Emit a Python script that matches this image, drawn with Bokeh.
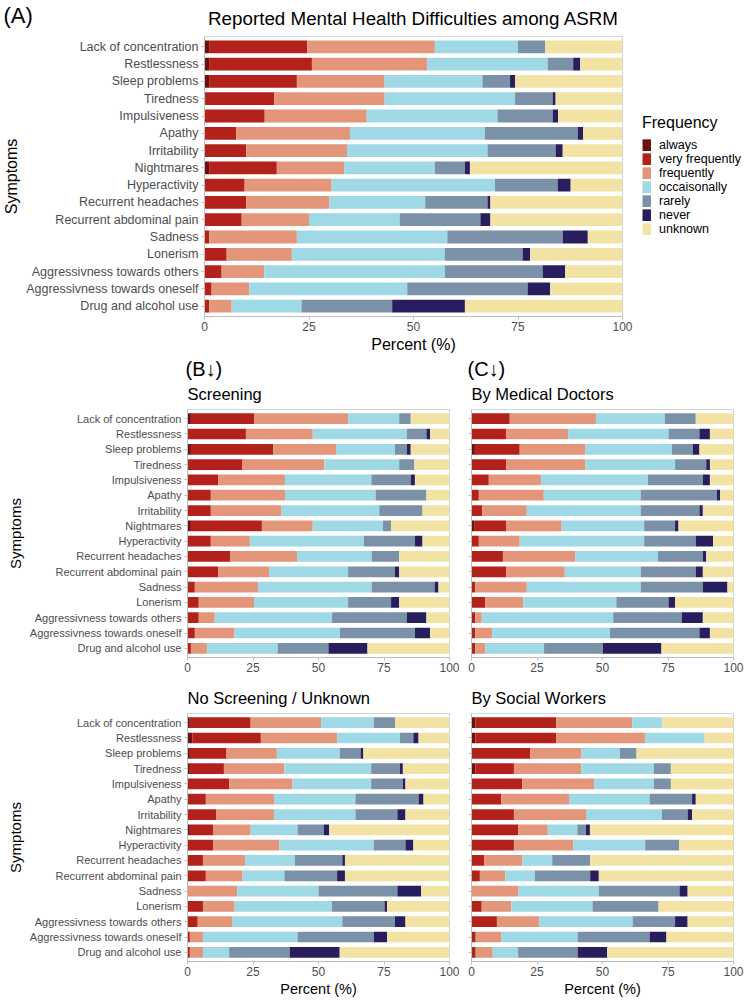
from bokeh.plotting import figure
from bokeh.models import ColumnDataSource, Range1d, FixedTicker, Legend, LegendItem
from bokeh.core.properties import value
from bokeh.layouts import column, row
from bokeh.embed import file_html
from bokeh.resources import INLINE

SYMPTOMS = ["Lack of concentration", "Restlessness", "Sleep problems", "Tiredness",
            "Impulsiveness", "Apathy", "Irritability", "Nightmares", "Hyperactivity",
            "Recurrent headaches", "Recurrent abdominal pain", "Sadness", "Lonerism",
            "Aggressivness towards others", "Aggressivness towards oneself",
            "Drug and alcohol use"]
FREQUENCIES = ["always", "very frequently", "frequently", "occaisonally", "rarely", "never", "unknown"]
COLORS = ["#6a1111", "#b2221a", "#e3967a", "#9fd9e5", "#7a91a7", "#281e5d", "#f2e3a5"]
X_TICKS = [0, 25, 50, 75, 100]

# percent per symptom: always, very frequently, frequently, occaisonally, rarely, never, unknown
ALL_ASRM = [
    [1.1, 23.5, 30.5, 19.9, 6.5, 0.0, 18.5],
    [1.1, 24.6, 27.6, 28.8, 6.1, 1.7, 10.1],
    [1.1, 21.0, 21.0, 23.4, 6.6, 1.2, 25.7],
    [0.3, 16.4, 26.4, 31.2, 9.0, 0.7, 16.0],
    [0.0, 14.4, 24.4, 31.3, 13.2, 1.3, 15.4],
    [0.0, 7.6, 27.2, 32.3, 22.2, 1.3, 9.4],
    [0.0, 10.0, 24.1, 33.6, 16.3, 1.7, 14.3],
    [1.1, 16.2, 16.1, 21.7, 7.2, 1.2, 36.5],
    [0.0, 9.6, 20.8, 39.1, 15.0, 3.1, 12.4],
    [0.0, 10.0, 19.9, 22.9, 14.9, 0.7, 31.6],
    [0.0, 8.9, 16.1, 21.7, 19.3, 2.4, 31.6],
    [0.0, 1.1, 21.0, 36.0, 27.6, 6.0, 8.3],
    [0.0, 5.3, 15.6, 36.6, 18.6, 1.8, 22.1],
    [0.0, 4.1, 10.2, 43.2, 23.4, 5.4, 13.7],
    [0.0, 1.7, 9.0, 37.8, 28.8, 5.4, 17.3],
    [0.0, 1.1, 5.4, 16.7, 21.7, 17.4, 37.7],
]
SCREENING = [
    [1.3, 24.1, 35.9, 19.5, 4.4, 0.0, 14.8],
    [0.0, 22.3, 25.5, 35.9, 7.5, 1.4, 7.4],
    [1.3, 31.4, 24.0, 22.5, 4.5, 1.5, 14.8],
    [0.0, 20.8, 31.4, 28.6, 5.8, 0.0, 13.4],
    [0.0, 11.7, 25.5, 33.0, 15.0, 1.6, 13.2],
    [0.0, 8.9, 28.3, 34.6, 19.4, 0.0, 8.8],
    [0.0, 8.9, 27.0, 37.3, 16.5, 0.0, 10.3],
    [1.3, 27.1, 19.4, 26.8, 3.1, 0.0, 22.3],
    [0.0, 8.9, 14.9, 43.5, 19.5, 2.9, 10.3],
    [0.0, 16.4, 25.4, 28.5, 10.5, 0.0, 19.2],
    [0.0, 11.8, 19.5, 30.0, 17.9, 1.6, 19.2],
    [0.0, 2.8, 24.1, 43.4, 24.0, 1.5, 4.2],
    [0.0, 4.3, 21.1, 35.9, 16.4, 3.1, 19.2],
    [0.0, 4.3, 6.1, 44.8, 28.5, 7.5, 8.8],
    [0.0, 2.8, 15.0, 40.4, 28.6, 5.8, 7.4],
    [0.0, 1.3, 6.1, 27.0, 19.4, 14.9, 31.3],
]
MEDICAL_DOCTORS = [
    [0.0, 14.6, 32.9, 26.3, 11.8, 0.0, 14.4],
    [0.0, 13.2, 23.7, 38.3, 11.8, 4.0, 9.0],
    [1.3, 17.1, 25.1, 33.0, 8.0, 2.5, 13.0],
    [0.0, 13.2, 30.3, 34.2, 11.9, 1.4, 9.0],
    [0.0, 6.6, 19.9, 40.8, 21.0, 2.7, 9.0],
    [0.0, 2.8, 24.8, 37.0, 29.0, 1.3, 5.1],
    [0.0, 4.1, 17.0, 43.5, 22.4, 1.3, 11.7],
    [1.0, 12.2, 21.2, 31.5, 11.8, 1.3, 21.0],
    [0.0, 2.8, 15.6, 47.5, 19.7, 6.6, 7.8],
    [0.0, 12.0, 27.6, 31.6, 17.1, 1.3, 10.4],
    [0.0, 13.2, 22.4, 29.0, 21.0, 2.7, 11.7],
    [0.0, 1.4, 19.7, 43.5, 23.7, 9.4, 2.3],
    [0.0, 5.3, 14.5, 35.5, 19.9, 2.5, 22.3],
    [0.0, 1.4, 2.5, 50.2, 26.2, 8.0, 11.7],
    [0.0, 1.4, 6.5, 44.9, 34.2, 4.0, 9.0],
    [0.0, 1.4, 3.9, 22.4, 22.4, 22.4, 27.5],
]
NO_SCREENING = [
    [0.9, 23.2, 26.9, 20.1, 8.1, 0.0, 20.8],
    [1.9, 26.1, 29.1, 24.0, 5.1, 2.0, 11.8],
    [0.9, 14.0, 19.2, 24.0, 8.0, 1.0, 32.9],
    [0.9, 13.0, 23.1, 33.1, 11.0, 1.1, 17.8],
    [0.0, 15.9, 24.1, 30.1, 12.1, 1.0, 16.8],
    [0.0, 7.0, 26.0, 31.1, 24.1, 1.9, 9.9],
    [0.0, 10.9, 22.1, 31.1, 16.0, 3.1, 16.8],
    [0.9, 9.0, 14.2, 17.9, 10.0, 2.1, 45.9],
    [0.0, 9.9, 25.2, 36.0, 12.1, 3.0, 13.8],
    [0.0, 5.9, 16.1, 19.0, 18.1, 1.0, 39.9],
    [0.0, 7.0, 14.0, 16.0, 20.1, 3.0, 39.9],
    [0.0, 0.0, 19.0, 31.0, 30.1, 9.1, 10.8],
    [0.0, 5.9, 12.1, 37.1, 20.1, 1.0, 23.8],
    [0.0, 3.9, 13.1, 42.1, 20.1, 4.0, 16.8],
    [0.0, 0.9, 5.0, 36.1, 29.1, 5.1, 23.8],
    [0.0, 0.9, 5.0, 10.0, 23.1, 19.1, 41.9],
]
SOCIAL_WORKERS = [
    [1.5, 30.9, 29.0, 11.3, 0.0, 0.0, 27.3],
    [1.5, 30.9, 33.8, 22.8, 0.0, 0.0, 11.0],
    [0.0, 22.5, 19.4, 14.7, 6.4, 0.0, 37.0],
    [1.5, 14.7, 25.7, 27.7, 6.5, 0.0, 23.9],
    [0.0, 19.4, 27.4, 22.8, 6.5, 0.0, 23.9],
    [0.0, 11.3, 25.9, 30.8, 16.2, 1.4, 14.4],
    [0.0, 16.2, 27.5, 29.0, 9.8, 1.7, 15.8],
    [0.0, 17.8, 11.3, 11.3, 3.3, 1.5, 54.8],
    [0.0, 16.2, 22.7, 27.4, 12.9, 0.0, 20.8],
    [0.0, 4.8, 14.6, 11.4, 14.5, 0.0, 54.7],
    [0.0, 3.2, 9.7, 11.3, 21.1, 3.3, 51.4],
    [0.0, 0.0, 17.8, 30.8, 30.8, 3.1, 17.5],
    [0.0, 3.9, 11.3, 31.0, 25.2, 0.0, 28.6],
    [0.0, 9.7, 16.2, 35.6, 16.2, 4.8, 17.5],
    [0.0, 1.6, 9.7, 29.2, 27.5, 6.4, 25.6],
    [0.0, 1.6, 6.5, 9.7, 22.7, 11.3, 48.2],
]

FONT = "Liberation Sans"
TICK_COLOR = "#4d4d4d"
LINE_COLOR = "#bdbdbd"
W = 751


def make_panel(rows, fw, fh, bl, br, bb, show_ylabels, ytick_size, ylabel_size,
               xlabel, xlabel_size, bar_h):
    n = len(SYMPTOMS)
    data = {"y": list(range(1, n + 1))}
    for j, f in enumerate(FREQUENCIES):
        data[f] = [r[j] for r in rows]
    src = ColumnDataSource(data)
    p = figure(frame_width=fw, frame_height=fh, title=None,
               x_range=Range1d(0, 100), y_range=Range1d(n + 0.6, 0.4),
               output_backend="svg", toolbar_location=None,
               min_border_left=bl, min_border_right=br,
               min_border_top=0, min_border_bottom=bb)
    rs = p.hbar_stack(FREQUENCIES, y="y", height=bar_h, color=COLORS,
                      source=src, line_color=None)
    p.grid.visible = False
    p.outline_line_color = "#d4d4d4"
    p.background_fill_color = "white"
    p.border_fill_color = "white"

    xa = p.xaxis[0]
    xa.ticker = FixedTicker(ticks=X_TICKS)
    xa.major_label_text_font = FONT
    xa.major_label_text_font_size = "12px"
    xa.major_label_text_color = TICK_COLOR
    xa.major_label_standoff = 2
    xa.major_tick_out = 3
    xa.major_tick_in = 0
    xa.minor_tick_line_color = None
    xa.axis_line_color = LINE_COLOR
    xa.major_tick_line_color = LINE_COLOR
    if xlabel:
        xa.axis_label = xlabel
        xa.axis_label_text_font = FONT
        xa.axis_label_text_font_size = xlabel_size
        xa.axis_label_text_font_style = "normal"
        xa.axis_label_text_color = "black"
        xa.axis_label_standoff = 2

    ya = p.yaxis[0]
    ya.ticker = FixedTicker(ticks=list(range(1, n + 1)))
    if show_ylabels:
        ya.major_label_overrides = {i + 1: s for i, s in enumerate(SYMPTOMS)}
        ya.axis_label = "Symptoms"
        ya.axis_label_text_font = FONT
        ya.axis_label_text_font_size = ylabel_size
        ya.axis_label_text_font_style = "normal"
        ya.axis_label_text_color = "black"
        ya.axis_label_standoff = 3
    else:
        ya.major_label_overrides = {i + 1: "" for i in range(n)}
    ya.major_label_text_font = FONT
    ya.major_label_text_font_size = ytick_size
    ya.major_label_text_color = TICK_COLOR
    ya.major_label_standoff = 3
    ya.major_tick_out = 3
    ya.major_tick_in = 0
    ya.minor_tick_line_color = None
    ya.axis_line_color = LINE_COLOR
    ya.major_tick_line_color = LINE_COLOR
    return p, rs


def blank(w, h):
    p = figure(frame_width=w, frame_height=h, title=None,
               x_range=Range1d(0, w), y_range=Range1d(0, h),
               x_axis_location=None, y_axis_location=None,
               output_backend="svg", toolbar_location=None,
               min_border_left=0, min_border_right=0,
               min_border_top=0, min_border_bottom=0)
    p.grid.visible = False
    p.outline_line_color = None
    p.background_fill_color = "white"
    p.border_fill_color = "white"
    return p


def header(h, items):
    p = blank(W, h)
    for x, y, txt, size in items:
        p.text(x=[x], y=[y], text=[txt], text_font=value(FONT),
               text_font_size=value(size), text_baseline="middle",
               text_align="left", text_color="black")
    return p


# Row 1: tag + main title
hA = blank(W, 36)
hA.text(x=[3], y=[21], text=["(A)"], text_font=value(FONT), text_font_size=value("22px"),
        text_baseline="middle", text_align="left", text_color="black")
hA.text(x=[413], y=[18], text=["Reported Mental Health Difficulties among ASRM"],
        text_font=value(FONT), text_font_size=value("18.8px"),
        text_baseline="middle", text_align="center", text_color="black")

pA, rsA = make_panel(ALL_ASRM, 418, 280, 204, 12, 41,
                     True, "12.5px", "16px", "Percent (%)", "16px", 0.74)

# legend panel: thick line keys give solid, contiguous colour swatches;
# the key lines themselves lie outside this panel's visible range
lg = figure(frame_width=117, frame_height=321, title=None,
            x_range=Range1d(0, 1), y_range=Range1d(0, 1),
            x_axis_location=None, y_axis_location=None,
            output_backend="svg", toolbar_location=None,
            min_border_left=0, min_border_right=0, min_border_top=0, min_border_bottom=0)
lg.grid.visible = False
lg.outline_line_color = None
lg.border_fill_color = "white"
leg_rs = [lg.line(x=[-3, -2], y=[-3, -3], line_color=c, line_width=12.3, line_cap="butt")
          for c in COLORS]
legend = Legend(items=[LegendItem(label=f, renderers=[r]) for f, r in zip(FREQUENCIES, leg_rs)],
                title="Frequency", location=(8, 121))
legend.title_text_font = FONT
legend.title_text_font_size = "16px"
legend.title_text_font_style = "normal"
legend.title_text_color = "black"
legend.title_standoff = 6
legend.label_text_font = FONT
legend.label_text_font_size = "12.5px"
legend.label_text_color = "black"
legend.glyph_width = 9
legend.glyph_height = 12
legend.label_height = 12
legend.label_standoff = 8
legend.spacing = 0
legend.padding = 4
legend.margin = 0
legend.border_line_color = None
legend.background_fill_alpha = 0
lg.add_layout(legend, "center")

# Row 2
h2 = header(52, [(185, 41, "(B\u2193)", "20px"), (187, 16, "Screening", "16.5px"),
                 (467, 41, "(C\u2193)", "20px"), (471, 16, "By Medical Doctors", "16.5px")])
pB1, _ = make_panel(SCREENING, 262, 248, 187, 13, 23, True, "11px", "15px", None, None, 0.7)
pC1, _ = make_panel(MEDICAL_DOCTORS, 262, 248, 9, 18, 23, False, "11px", "15px", None, None, 0.7)

# Row 3
h3 = header(33, [(187, 16, "No Screening / Unknown", "16.5px"),
                 (471, 16, "By Social Workers", "16.5px")])
pB2, _ = make_panel(NO_SCREENING, 262, 248, 187, 13, 39, True, "11px", "15px",
                    "Percent (%)", "14.5px", 0.7)
pC2, _ = make_panel(SOCIAL_WORKERS, 262, 248, 9, 18, 39, False, "11px", "15px",
                    "Percent (%)", "14.5px", 0.7)

layout = column(hA, row(pA, lg), h2, row(pB1, pC1), h3, row(pB2, pC2))
open("out.html", "w").write(file_html(layout, INLINE))
